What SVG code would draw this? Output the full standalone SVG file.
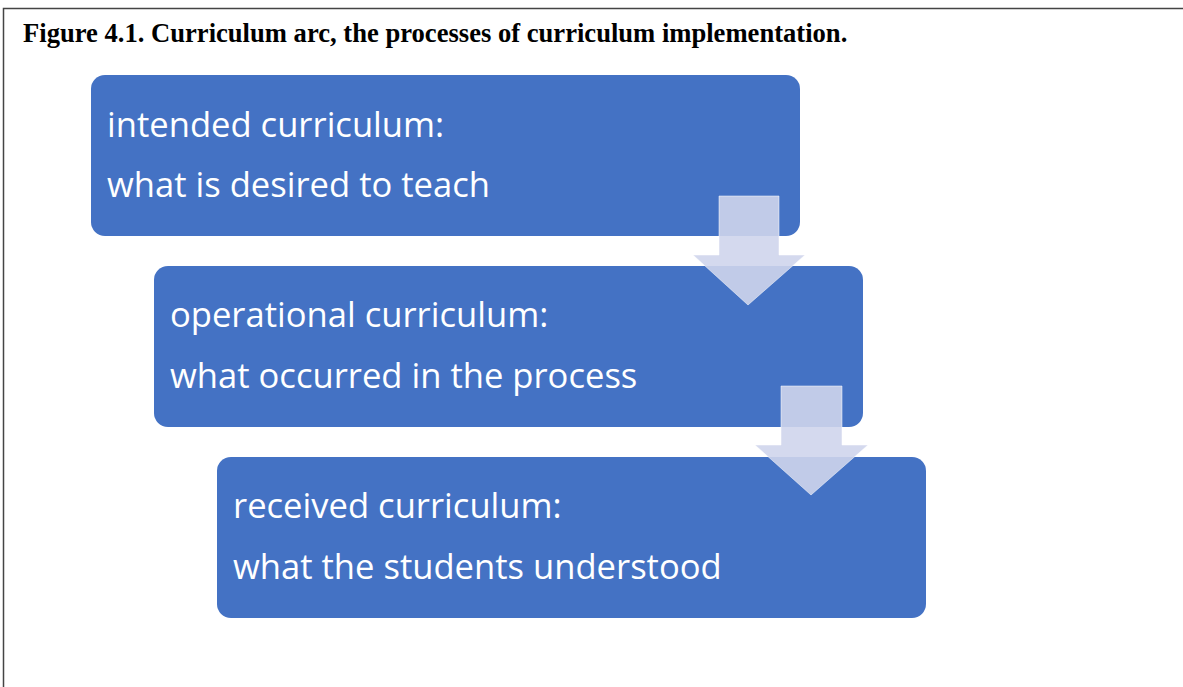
<svg xmlns="http://www.w3.org/2000/svg" width="1183" height="687" viewBox="0 0 1183 687">
<style>
.box{fill:#4472C4;}
.t{font-family:"Open Sans","Noto Sans",sans-serif;font-size:34.6px;fill:#FFFFFF;}
.title{font-family:"Liberation Serif","Times New Roman",serif;font-weight:bold;font-size:26.6px;fill:#000;}
.arr{fill:#CFD5EC;fill-opacity:0.9;stroke:#FFFFFF;stroke-opacity:0.5;stroke-width:1;}
</style>
<rect x="0" y="0" width="1183" height="687" fill="#FFFFFF"/>
<path d="M3.5 687 V8.5 H1183" fill="none" stroke="#444" stroke-width="1.5"/>
<text class="title" x="23" y="42">Figure 4.1. Curriculum arc, the processes of curriculum implementation.</text>
<g id="node1">
<rect class="box" x="91" y="75" width="709" height="161" rx="14"/>
<text class="t" x="107" y="137">intended curriculum:</text>
<text class="t" x="107" y="197">what is desired to teach</text>
</g>
<g id="node2">
<rect class="box" x="154" y="266" width="709" height="161" rx="14"/>
<text class="t" x="170" y="327">operational curriculum:</text>
<text class="t" x="170" y="388">what occurred in the process</text>
</g>
<g id="node3">
<rect class="box" x="217" y="457" width="709" height="161" rx="14"/>
<text class="t" x="233" y="518">received curriculum:</text>
<text class="t" x="233" y="579">what the students understood</text>
</g>
<g id="connectors">
<path class="arr" d="M719 196 H779 V255 H805 L748 305 L693 255 H719 Z"/>
<path class="arr" d="M781 386 H842 V445 H868 L811 495 L755 445 H781 Z"/>
</g>
</svg>
